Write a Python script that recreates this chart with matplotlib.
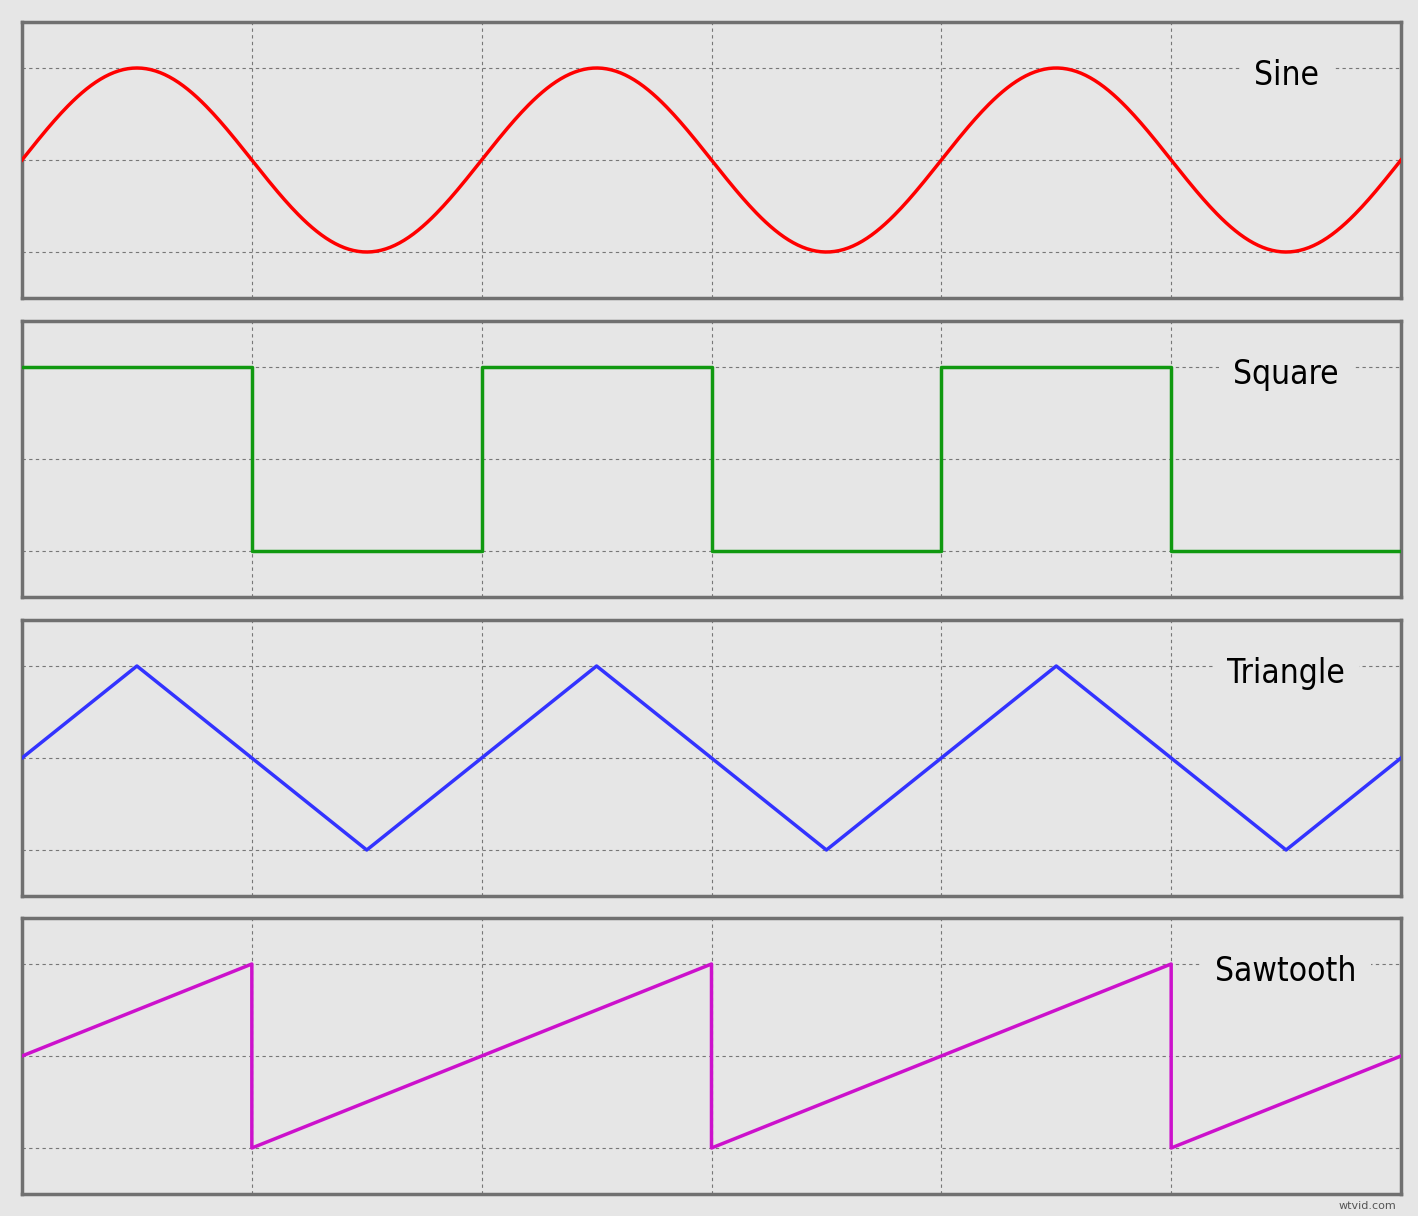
import matplotlib.pyplot as plt
import numpy as np

# Waveform data (x in grid units, period 2)
names = ["Sine", "Square", "Triangle", "Sawtooth"]
colors = ["#ff0000", "#109910", "#3333ff", "#cc11cc"]

sine_x = np.linspace(0, 6, 600)
sine_y = np.sin(np.pi * sine_x)

square_x = [0, 1, 1, 2, 2, 3, 3, 4, 4, 5, 5, 6]
square_y = [1, 1, -1, -1, 1, 1, -1, -1, 1, 1, -1, -1]

tri_x = [0, 0.5, 1.5, 2.5, 3.5, 4.5, 5.5, 6]
tri_y = [0, 1, -1, 1, -1, 1, -1, 0]

saw_x = [0, 1, 1, 3, 3, 5, 5, 6]
saw_y = [0, 1, -1, 1, -1, 1, -1, 0]

series = [(sine_x, sine_y), (square_x, square_y), (tri_x, tri_y), (saw_x, saw_y)]

bg = "#e6e6e6"
fig = plt.figure(figsize=(14.18, 12.16), dpi=100, facecolor=bg)
W, H = 1418, 1216
tops = [22, 321, 620, 918]
ph = 276
for i, (name, col, (xs, ys)) in enumerate(zip(names, colors, series)):
    ax = fig.add_axes([22 / W, 1 - (tops[i] + ph) / H, 1379 / W, ph / H])
    ax.set_facecolor(bg)
    ax.set_xlim(0, 6)
    ax.set_ylim(-1.5, 1.5)
    ax.set_xticks([1, 2, 3, 4, 5])
    ax.set_yticks([-1, 0, 1])
    ax.tick_params(length=0, labelbottom=False, labelleft=False)
    ax.grid(True, color="#777777", linestyle=(0, (3, 3)), linewidth=0.8)
    for s in ax.spines.values():
        s.set_color("#707070")
        s.set_linewidth(2.5)
    ax.plot(xs, ys, color=col, linewidth=2.5, zorder=3)
    ax.text(5.5, 0.92, name, fontsize=24, ha="center", va="center", zorder=4,
            family="DejaVu Sans", fontstretch="condensed",
            bbox=dict(facecolor=bg, edgecolor="none", pad=10))

fig.text(1396 / W, 1 - 1206 / H, "wtvid.com", fontsize=8, ha="right", va="center", color="#555555")
fig.savefig("out.png", dpi=100, facecolor=bg)
